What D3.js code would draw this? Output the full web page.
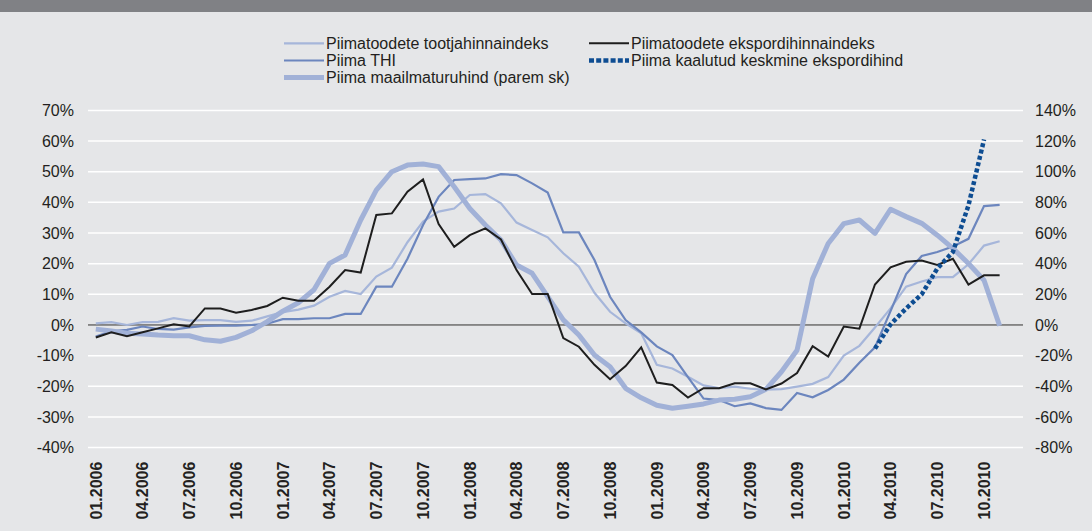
<!DOCTYPE html>
<html>
<head>
<meta charset="utf-8">
<script src="https://cdn.jsdelivr.net/npm/d3@7"></script>
<style>
  body { margin: 0; background: #e5e6e8; }
  svg { display: block; font-family: "Liberation Sans", Arial, sans-serif; }
</style>
</head>
<body>
<div id="chart"></div>
<script>
// monthly data, 01.2006 .. 11.2010 (12.2010 is an empty slot on the axis)
let tickLabels = ["01.2006", "04.2006", "07.2006", "10.2006", "01.2007", "04.2007", "07.2007", "10.2007",
    "01.2008", "04.2008", "07.2008", "10.2008", "01.2009", "04.2009", "07.2009", "10.2009",
    "01.2010", "04.2010", "07.2010", "10.2010"];

let leftTicks = [70, 60, 50, 40, 30, 20, 10, 0, -10, -20, -30, -40];
let rightTicks = [140, 120, 100, 80, 60, 40, 20, 0, -20, -40, -60, -80];

let tootja = [0.5, 0.9, 0.0, 0.9, 1.0, 2.2, 1.4, 1.6, 1.6, 1.0, 1.4, 2.8, 4.2, 5.0, 6.3, 9.2, 11.1, 10.1, 15.8, 18.7,
    27.0, 33.7, 37.0, 38.0, 42.4, 42.7, 39.7, 33.4, 31.0, 28.6, 23.4, 19.0, 10.5, 4.3, 0.5, -2.7, -13.0, -14.2, -16.9, -19.7,
    -20.6, -20.1, -20.8, -21.1, -20.9, -20.1, -19.2, -17.0, -10.0, -6.8, -0.8, 5.4, 12.5, 14.2, 15.6, 15.6, 19.8, 25.9, 27.3];

let eksport = [-4.1, -2.4, -3.7, -2.4, -1.1, 0.2, -0.5, 5.4, 5.4, 4.0, 4.9, 6.2, 8.9, 7.9, 7.9, 12.5, 17.9, 17.1, 35.9, 36.4,
    43.5, 47.5, 32.9, 25.5, 29.3, 31.5, 27.9, 17.9, 10.1, 10.1, -4.3, -7.1, -13.0, -17.7, -13.4, -7.3, -18.8, -19.6, -23.7, -20.6,
    -20.6, -19.0, -19.0, -21.0, -19.1, -15.7, -6.9, -10.3, -0.5, -1.2, 13.2, 18.8, 20.6, 21.0, 19.6, 21.6, 13.2, 16.2, 16.2];

let thi = [-3.8, -2.1, -1.6, -0.5, -1.3, -1.5, -0.8, -0.3, -0.2, -0.2, 0.0, 0.4, 1.9, 1.9, 2.2, 2.2, 3.6, 3.6, 12.5, 12.5,
    21.6, 32.6, 41.8, 47.3, 47.6, 47.8, 49.2, 48.9, 46.2, 43.2, 30.2, 30.2, 21.2, 9.2, 1.6, -2.4, -7.0, -9.8, -17.0, -24.0,
    -24.5, -26.5, -25.6, -27.1, -27.7, -22.2, -23.6, -21.2, -17.8, -12.3, -7.3, 4.5, 16.6, 22.5, 23.8, 25.6, 28.1, 38.8, 39.2];

// right axis
let maailm = [-2.7, -3.9, -5.4, -5.9, -6.6, -7.0, -7.0, -9.7, -10.6, -8.1, -3.8, 2.2, 9.0, 14.5, 23.0, 40.2, 45.7, 68.5, 88.0, 100.0,
    104.3, 105.0, 103.3, 90.2, 76.0, 65.2, 55.4, 39.1, 33.7, 18.5, 3.3, -6.5, -19.6, -27.2, -41.3, -47.5, -52.4, -54.3, -53.0, -51.5,
    -49.0, -48.5, -46.8, -42.0, -30.5, -16.5, 30.2, 53.2, 66.1, 68.5, 59.8, 75.5, 70.7, 66.3, 58.6, 50.0, 40.1, 29.2, -0.5];

// starts 03.2010
let kaalutud = [-7.7, 0.2, 5.4, 10.0, 18.4, 23.8, 39.0, 60.5];
let kaalutudStart = 50;

let width = 1092, height = 531;
let plotLeft = 88, plotRight = 1023, plotTop = 110.4, plotBottom = 447.6;

let svg = d3.select("#chart").append("svg")
    .attr("width", width)
    .attr("height", height);

svg.append("rect").attr("width", width).attr("height", 12).attr("fill", "#808185");

let months = d3.range(60);
let x = d3.scaleBand().domain(months).range([plotLeft, plotRight]);
let xc = i => x(i) + x.bandwidth() / 2;
let yL = d3.scaleLinear().domain([-40, 70]).range([plotBottom, plotTop]);
let yR = d3.scaleLinear().domain([-80, 140]).range([plotBottom, plotTop]);

// gridlines
svg.append("g").selectAll("line")
    .data(leftTicks)
    .enter().append("line")
    .attr("x1", plotLeft).attr("x2", plotRight)
    .attr("y1", d => yL(d)).attr("y2", d => yL(d))
    .attr("stroke", "#ffffff")
    .attr("stroke-width", 1.5);

svg.append("line")
    .attr("x1", plotLeft).attr("x2", plotRight)
    .attr("y1", yL(0)).attr("y2", yL(0))
    .attr("stroke", "#1e1e1e").attr("stroke-width", 1);

// axes
let axisL = svg.append("g").attr("transform", `translate(${plotLeft - 11},0)`)
    .call(d3.axisLeft(yL).tickValues(leftTicks).tickSize(0).tickFormat(d => d + "%"));
let axisR = svg.append("g").attr("transform", `translate(${plotRight + 9},0)`)
    .call(d3.axisRight(yR).tickValues(rightTicks).tickSize(0).tickFormat(d => d + "%"));
[axisL, axisR].forEach(a => {
    a.select(".domain").remove();
    a.selectAll("text").attr("font-size", 16).attr("fill", "#231f20")
        .attr("font-family", "'Liberation Sans', Arial, sans-serif");
});

let xAxis = svg.append("g").attr("transform", `translate(0,${plotBottom})`)
    .call(d3.axisBottom(x)
        .tickValues(months.filter(i => i % 3 === 0 && i < 58))
        .tickSize(0)
        .tickFormat(i => tickLabels[i / 3]));
xAxis.select(".domain").remove();
xAxis.selectAll("text")
    .attr("font-size", 16)
    .attr("font-weight", "bold")
    .attr("fill", "#231f20")
    .attr("font-family", "'Liberation Sans', Arial, sans-serif")
    .attr("text-anchor", "end")
    .attr("transform", "rotate(-90)")
    .attr("x", -14)
    .attr("y", 0)
    .attr("dy", "0.36em");

// lines
let lineL = d3.line().x((d, i) => xc(i)).y(d => yL(d));
let lineR = d3.line().x((d, i) => xc(i)).y(d => yR(d));

svg.append("path").datum(tootja).attr("d", lineL)
    .attr("fill", "none").attr("stroke", "#a6b6da").attr("stroke-width", 2.2);
svg.append("path").datum(thi).attr("d", lineL)
    .attr("fill", "none").attr("stroke", "#6c86be").attr("stroke-width", 2.2);
svg.append("path").datum(maailm).attr("d", lineR)
    .attr("fill", "none").attr("stroke", "#a1b1d7").attr("stroke-width", 5)
    .attr("stroke-linejoin", "round");
svg.append("path").datum(eksport).attr("d", lineL)
    .attr("fill", "none").attr("stroke", "#1e1e1e").attr("stroke-width", 2);

let lineK = d3.line().x((d, i) => xc(i + kaalutudStart)).y(d => yL(d));
svg.append("path").datum(kaalutud).attr("d", lineK)
    .attr("fill", "none").attr("stroke", "#0e4d92").attr("stroke-width", 4.5)
    .attr("stroke-dasharray", "4,2.5");

// legend
let legend = [
    {name: "Piimatoodete tootjahinnaindeks", color: "#a6b6da", w: 2.2, col: 0, row: 0},
    {name: "Piimatoodete ekspordihinnaindeks", color: "#1e1e1e", w: 2, col: 1, row: 0},
    {name: "Piima THI", color: "#6c86be", w: 2.2, col: 0, row: 1},
    {name: "Piima kaalutud keskmine ekspordihind", color: "#0e4d92", w: 4.5, dash: "5,2.2", col: 1, row: 1},
    {name: "Piima maailmaturuhind (parem sk)", color: "#a1b1d7", w: 5, col: 0, row: 2}
];
let colX = [284, 589], rowY = [43.3, 60.5, 77.5];
let lg = svg.append("g").selectAll("g").data(legend).enter().append("g")
    .attr("transform", d => `translate(${colX[d.col]},${rowY[d.row]})`);
lg.append("line").attr("x1", 0).attr("x2", 40)
    .attr("stroke", d => d.color).attr("stroke-width", d => d.w)
    .attr("stroke-dasharray", d => d.dash || null);
lg.append("text").attr("x", 42).attr("y", 5.6)
    .attr("font-size", 16).attr("fill", "#231f20")
    .text(d => d.name);
</script>
</body>
</html>
